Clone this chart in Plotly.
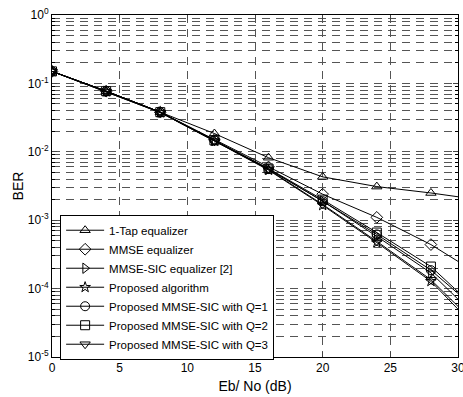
import plotly.graph_objects as go

snr_marked = [0, 4, 8, 12, 16, 20, 24, 28]
snr_end = [28, 30]

names = [
    "1-Tap equalizer",
    "MMSE equalizer",
    "MMSE-SIC equalizer [2]",
    "Proposed algorithm",
    "Proposed MMSE-SIC with Q=1",
    "Proposed MMSE-SIC with Q=2",
    "Proposed MMSE-SIC with Q=3",
]
ber_1tap = [0.150, 0.077, 0.038, 0.0185, 0.0082, 0.0043, 0.0031, 0.0025]
ber_mmse = [0.150, 0.077, 0.038, 0.0150, 0.0060, 0.0024, 0.0011, 0.00044]
ber_sic2 = [0.150, 0.077, 0.038, 0.0146, 0.0056, 0.0019, 0.00058, 0.00017]
ber_prop = [0.150, 0.076, 0.0375, 0.0144, 0.0054, 0.00165, 0.00047, 0.000128]
ber_q1 = [0.150, 0.077, 0.038, 0.0147, 0.0056, 0.0019, 0.00062, 0.000186]
ber_q2 = [0.150, 0.077, 0.038, 0.0147, 0.0057, 0.0020, 0.00066, 0.00021]
ber_q3 = [0.150, 0.076, 0.0375, 0.0144, 0.0055, 0.0017, 0.00049, 0.000135]
ber_at30 = [0.0022, 0.00025, 7e-5, 5e-5, 8.5e-5, 9e-5, 5.5e-5]

symbols = ["triangle-up-open", "diamond-open", "triangle-right-open", "star-open",
           "circle-open", "square-open", "triangle-down-open"]
marker_sizes = [9, 9, 9, 8, 9, 9, 9]

y_major = [1, 1e-1, 1e-2, 1e-3, 1e-4, 1e-5]
y_major_text = ["10<sup>0</sup>", "10<sup>-1</sup>", "10<sup>-2</sup>", "10<sup>-3</sup>",
                "10<sup>-4</sup>", "10<sup>-5</sup>"]
x_ticks = [0, 5, 10, 15, 20, 25, 30]

series = [ber_1tap, ber_mmse, ber_sic2, ber_prop, ber_q1, ber_q2, ber_q3]

fig = go.Figure()
for name, ys, sym, ms, yend in zip(names, series, symbols, marker_sizes, ber_at30):
    fig.add_trace(go.Scatter(
        x=snr_end, y=[ys[-1], yend], mode="lines",
        line=dict(color="black", width=1), showlegend=False, hoverinfo="skip"))
    fig.add_trace(go.Scatter(
        x=snr_marked, y=ys, mode="lines+markers", name=name,
        line=dict(color="black", width=1),
        marker=dict(symbol=sym, size=ms, color="black", line=dict(color="black", width=1))))

minor_vals = []
for e in range(-5, 0):
    for k in range(2, 10):
        minor_vals.append(k * 10 ** e)

grid_dash = "8px,6px"
fig.update_layout(
    width=463, height=397,
    margin=dict(l=52, r=5, t=15, b=40),
    paper_bgcolor="white", plot_bgcolor="white",
    font=dict(family="Liberation Sans, Arial, sans-serif", size=12, color="black"),
    legend=dict(x=0.02, y=0.416, xanchor="left", yanchor="top",
                bgcolor="white", bordercolor="black", borderwidth=1,
                font=dict(size=11.5), tracegroupgap=0, itemwidth=38),
    showlegend=True,
)
fig.update_xaxes(
    range=[0, 30], tickvals=x_ticks, ticks="inside", ticklen=5,
    showline=True, linecolor="black", linewidth=1, mirror="ticks",
    showgrid=True, gridcolor="#555", griddash=grid_dash, gridwidth=1,
    zeroline=False, ticklabeloverflow="allow", automargin=False,
    title=dict(text="Eb/ No (dB)", standoff=6),
)
fig.update_yaxes(
    type="log", range=[-5, 0], tickvals=y_major, ticktext=y_major_text,
    ticks="inside", ticklen=5,
    showline=True, linecolor="black", linewidth=1, mirror="ticks",
    showgrid=True, gridcolor="#555", griddash=grid_dash, gridwidth=1,
    zeroline=False, ticklabeloverflow="allow", automargin=False,
    minor=dict(tickvals=minor_vals, ticks="inside", ticklen=3, tickcolor="black",
               showgrid=True, gridcolor="#555", griddash=grid_dash, gridwidth=1),
    title=dict(text="BER", standoff=0),
)

fig.write_html("out.html", config={"displayModeBar": False},
               post_script="document.body.style.margin='0';document.body.style.overflow='hidden';")
